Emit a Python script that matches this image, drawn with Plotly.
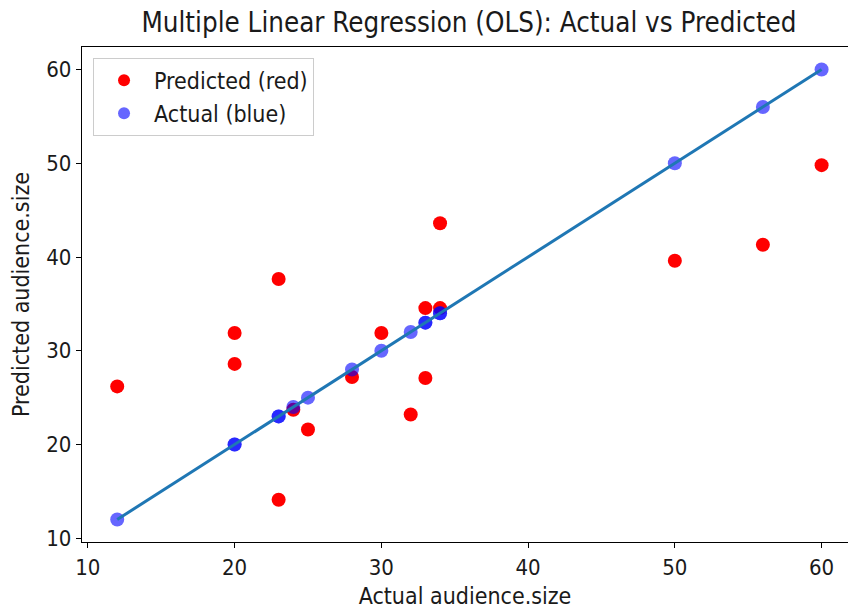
import plotly.graph_objects as go

actual = [12, 20, 20, 23, 23, 24, 25, 28, 30, 32, 33, 33, 34, 34, 50, 56, 60]
predicted = [26.2, 31.9, 28.6, 37.65, 14.1, 23.7, 21.6, 27.2, 31.9, 23.2, 27.1, 34.55, 34.55, 43.6, 39.6, 41.3, 49.8]
x_ticks = [10, 20, 30, 40, 50, 60]
y_ticks = [10, 20, 30, 40, 50, 60]

FONT = "DejaVu Sans Condensed, DejaVu Sans, sans-serif"
TXT = "#1a1a1a"

fig = go.Figure()
fig.add_trace(go.Scatter(x=actual, y=predicted, mode="markers", name="Predicted (red)",
                         marker=dict(color="red", size=14, line=dict(width=0))))
fig.add_trace(go.Scatter(x=actual, y=actual, mode="markers", name="Actual (blue)",
                         marker=dict(color="rgba(0,0,255,0.6)", size=14, line=dict(width=0))))
lo, hi = min(actual), max(actual)
fig.add_trace(go.Scatter(x=[lo, hi], y=[lo, hi], mode="lines", showlegend=False,
                         line=dict(color="#1f77b4", width=3)))

axis_common = dict(showgrid=False, zeroline=False, showline=True, linecolor="black", linewidth=1.3,
                   ticks="outside", ticklen=5, tickwidth=1.3, tickcolor="black",
                   tickfont=dict(family=FONT, size=22, color=TXT))
fig.update_xaxes(range=[9.6, 61.8], tickvals=x_ticks, mirror=True,
                 title=dict(text="Actual audience.size", font=dict(family=FONT, size=23, color=TXT), standoff=10),
                 **axis_common)
fig.update_yaxes(range=[9.6, 62.4], tickvals=y_ticks, mirror=False,
                 title=dict(text="Predicted audience.size", font=dict(family=FONT, size=23, color=TXT), standoff=10),
                 **axis_common)

fig.update_layout(
    width=848, height=609,
    margin=dict(l=82, r=0, t=47, b=67),
    plot_bgcolor="white", paper_bgcolor="white",
    title=dict(text="Multiple Linear Regression (OLS): Actual vs Predicted",
               font=dict(family=FONT, size=27.5, color=TXT),
               x=469 / 848, xanchor="center", y=1 - 22 / 609, yanchor="middle"),
    legend=dict(x=0.0144, y=0.978, xanchor="left", yanchor="top",
                bordercolor="#cccccc", borderwidth=1, bgcolor="white",
                font=dict(family=FONT, size=23, color=TXT),
                itemsizing="constant", itemwidth=50),
    showlegend=True,
)

fig.write_html("out.html")
